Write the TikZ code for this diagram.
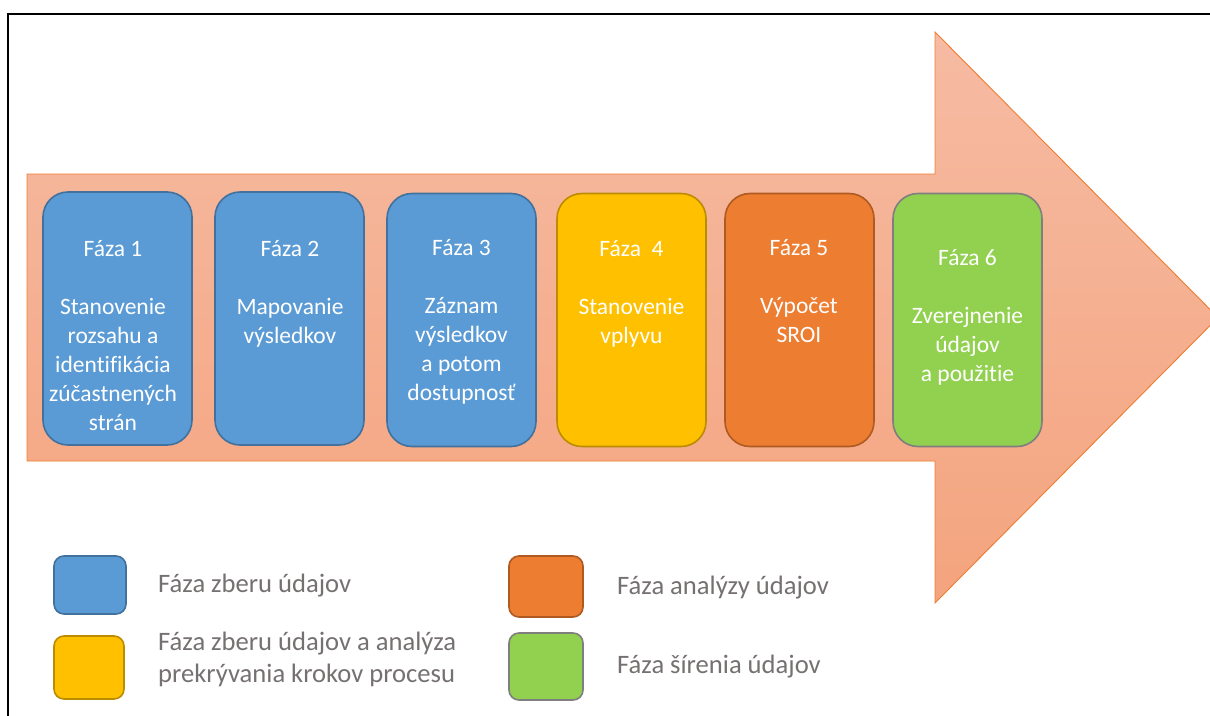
\documentclass[tikz,border=0pt]{standalone}
\usepackage{fontspec}
\setmainfont[Ligatures=NoCommon]{Carlito}
\definecolor{arrowedge}{HTML}{ED7D31}
\definecolor{arrowtop}{HTML}{F6BBA3}
\definecolor{arrowbot}{HTML}{F4A47E}
\definecolor{bluefill}{HTML}{5B9BD5}
\definecolor{blueedge}{HTML}{41719C}
\definecolor{yelfill}{HTML}{FFC000}
\definecolor{yeledge}{HTML}{BC8C00}
\definecolor{orafill}{HTML}{ED7D31}
\definecolor{oraedge}{HTML}{AE5A21}
\definecolor{grnfill}{HTML}{92D050}
\definecolor{grnedge}{HTML}{7F7F7F}
\definecolor{legtext}{HTML}{767171}
\tikzset{
  phasebox/.style={draw, line width=1.6pt, rounded corners=25pt, minimum width=149pt, minimum height=253pt, inner sep=0pt},
  phasetext/.style={anchor=north, align=center, inner sep=0pt, text=white, font=\fontsize{23.5}{29}\selectfont},
  legbox/.style={draw, line width=1.6pt, rounded corners=10pt, inner sep=0pt},
  legtxt/.style={inner sep=0pt, text=legtext, align=left, font=\fontsize{26.6}{32}\selectfont},
  bigarrow/.style={draw=arrowedge, line width=0.9pt, top color=arrowtop, bottom color=arrowbot}
}
\begin{document}
\begin{tikzpicture}[x=1pt,y=-1pt]
\clip (0,0) rectangle (1210,715);
\fill[white] (0,0) rectangle (1210,715);
% frame
\draw[line width=2pt, black] (8,800) -- (8,14) -- (1300,14);
% big arrow
\coordinate (a1) at (27,174);
\coordinate (a2) at (935,174);
\coordinate (a3) at (935,32);
\coordinate (a4) at (1218,317.5);
\coordinate (a5) at (935,603);
\coordinate (a6) at (935,461);
\coordinate (a7) at (27,461);
\path[bigarrow] (a1) -- (a2) -- (a3) -- (a4) -- (a5) -- (a6) -- (a7) -- cycle;
% phase boxes
\node[phasebox, fill=bluefill, draw=blueedge] (b1) at (117.5,318.5) {};
\node[phasebox, fill=bluefill, draw=blueedge] (b2) at (289.5,318.5) {};
\node[phasebox, fill=bluefill, draw=blueedge] (b3) at (461.5,320) {};
\node[phasebox, fill=yelfill, draw=yeledge] (b4) at (631.5,320) {};
\node[phasebox, fill=orafill, draw=oraedge] (b5) at (799.5,320) {};
\node[phasebox, fill=grnfill, draw=grnedge] (b6) at (967.5,320) {};
% phase texts
\node[phasetext] (t1) at (113,236.5) {\rule{0pt}{20pt}Fáza 1\\[29pt]Stanovenie\\rozsahu a\\identifikácia\\zúčastnených\\strán};
\node[phasetext] (t2) at (290,236.5) {\rule{0pt}{20pt}Fáza 2\\[29pt]Mapovanie\\výsledkov};
\node[phasetext] (t3) at (461.5,235.5) {\rule{0pt}{20pt}Fáza 3\\[29pt]Záznam\\výsledkov\\a potom\\dostupnosť};
\node[phasetext] (t4) at (631.5,236.5) {\rule{0pt}{20pt}Fáza\ \ 4\\[29pt]Stanovenie\\vplyvu};
\node[phasetext] (t5) at (799,235.5) {\rule{0pt}{20pt}Fáza 5\\[29pt]Výpočet\\SROI};
\node[phasetext] (t6) at (967.5,245.5) {\rule{0pt}{20pt}Fáza 6\\[29pt]Zverejnenie\\údajov\\a použitie};
% legend
\node[legbox, fill=bluefill, draw=blueedge, minimum width=72pt, minimum height=58pt] (l1) at (90,585) {};
\node[legbox, fill=yelfill, draw=yeledge, minimum width=70pt, minimum height=63pt] (l2) at (89,667.5) {};
\node[legbox, fill=orafill, draw=oraedge, minimum width=74pt, minimum height=61pt] (l3) at (546,586.5) {};
\node[legbox, fill=grnfill, draw=grnedge, minimum width=74pt, minimum height=67pt] (l4) at (546,666.5) {};
\node[legtxt, anchor=base west] (lt1) at (158,592) {Fáza zberu údajov};
\node[legtxt, anchor=north west] (lt2) at (158,628) {\rule{0pt}{22pt}Fáza zberu údajov a analýza\\prekrývania krokov procesu};
\node[legtxt, anchor=base west] (lt3) at (617,594) {Fáza analýzy údajov};
\node[legtxt, anchor=base west] (lt4) at (617,673) {Fáza šírenia údajov};
\end{tikzpicture}
\end{document}
